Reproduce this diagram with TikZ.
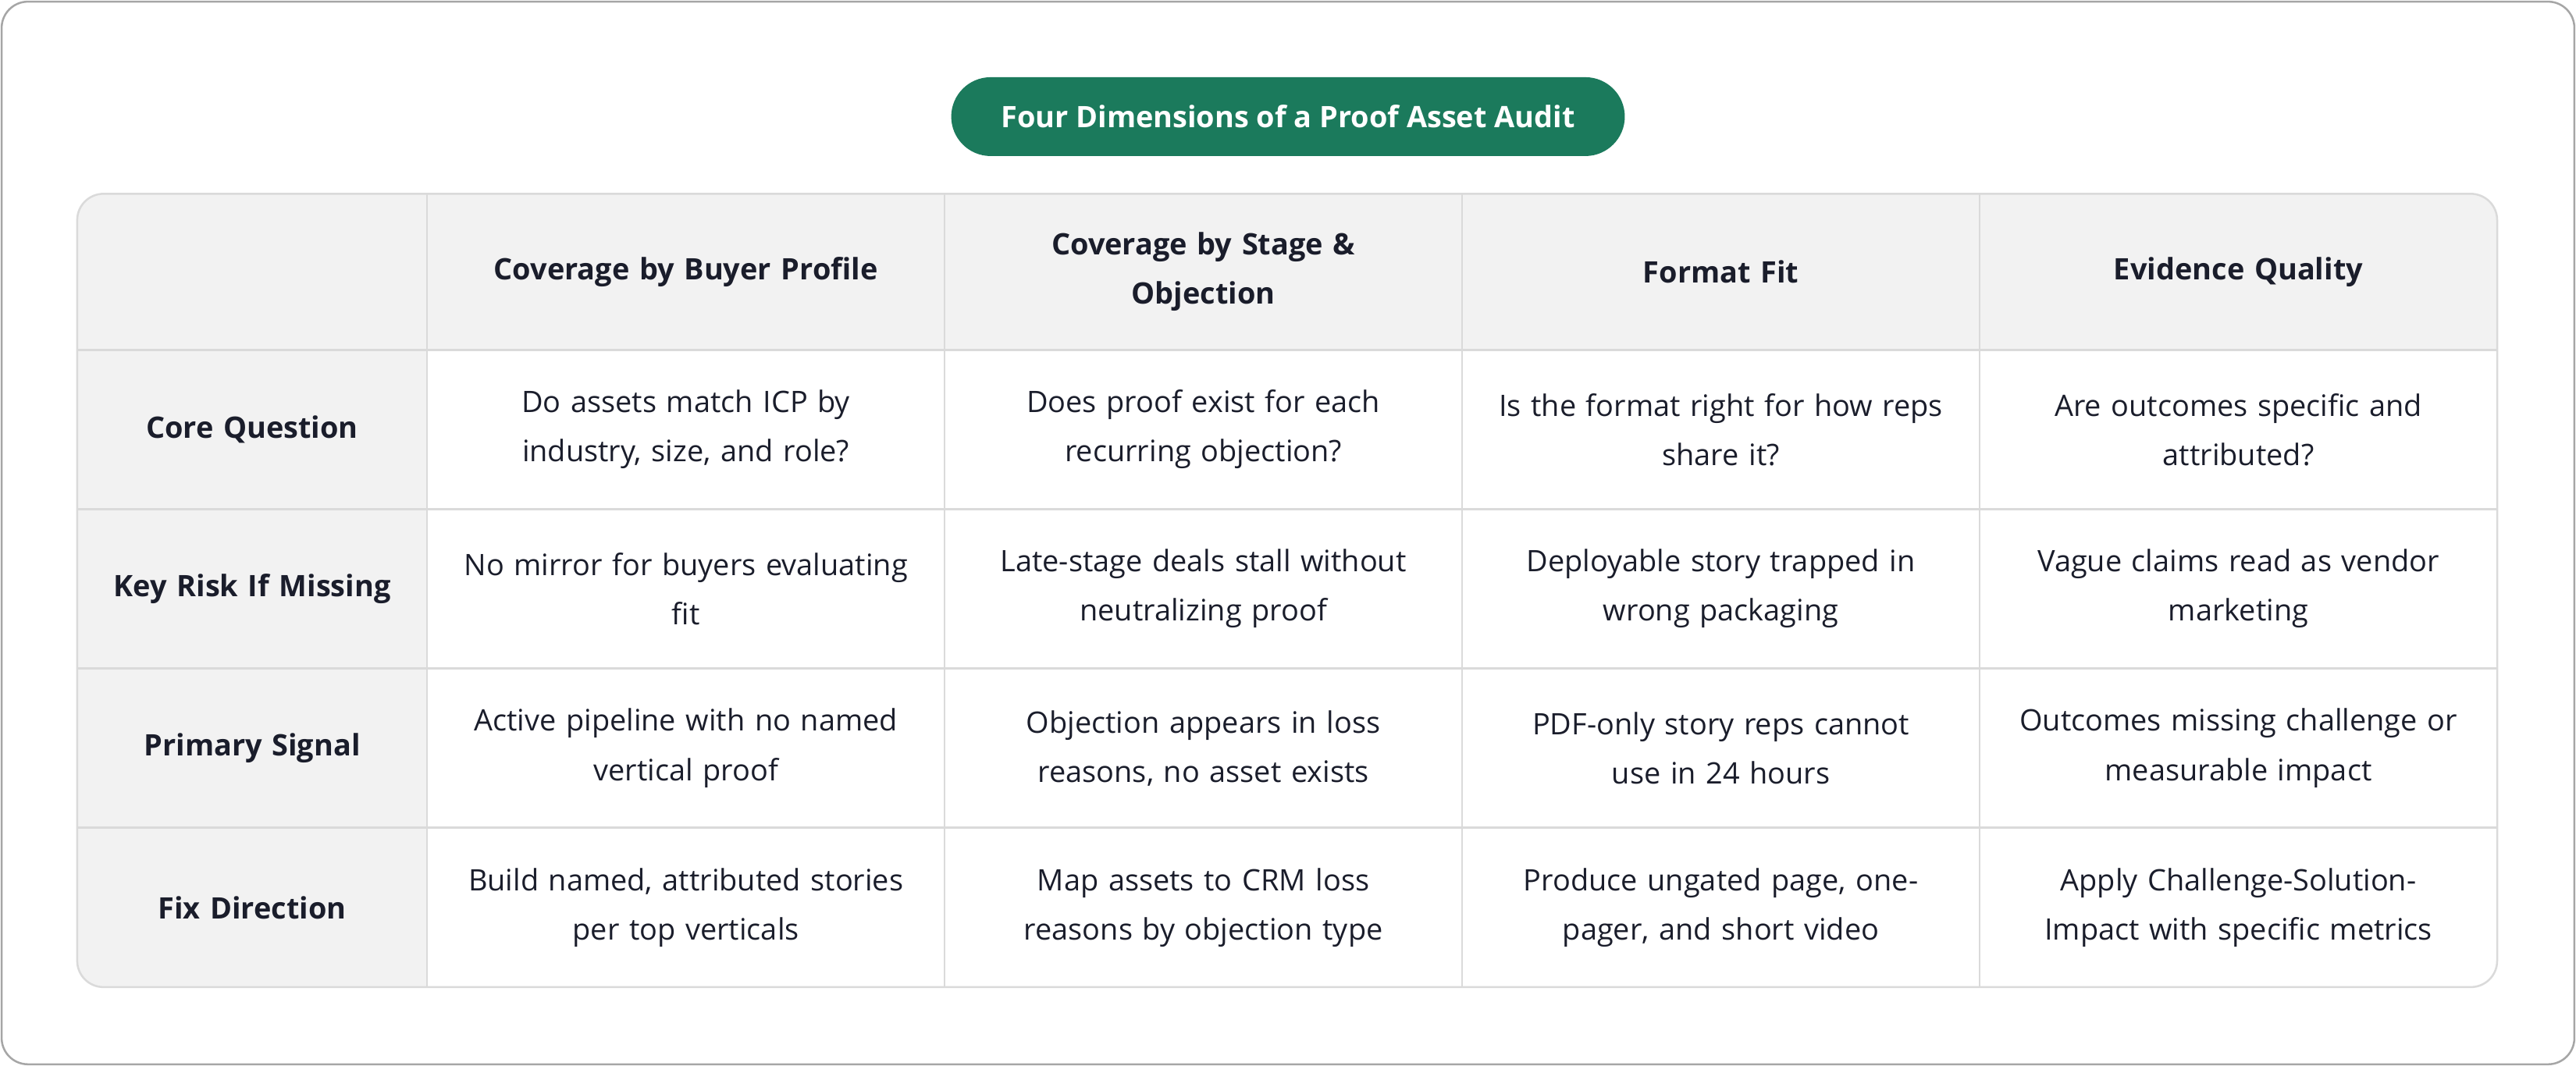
\documentclass[tikz,border=0pt]{standalone}
\usepackage{fontspec}
\setmainfont{Open Sans}
\usetikzlibrary{positioning,calc}
\definecolor{audgreen}{HTML}{1B7A5C}
\definecolor{audgray}{HTML}{F2F2F2}
\definecolor{audline}{HTML}{DADADA}
\definecolor{audtext}{HTML}{1A1D2B}
\tikzset{
  cell/.style={text width=154pt, align=center, font=\fontsize{9}{15}\selectfont, text=audtext},
  head/.style={cell, font=\fontsize{9}{15}\selectfont\bfseries},
}
\begin{document}
\hyphenpenalty=10000
\begin{tikzpicture}[x=0.5pt,y=-0.5pt]
% frame
\useasboundingbox (0,0) rectangle (1568,649);
\draw[gray!70, line width=0.6pt, rounded corners=8pt] (1,1) rectangle (1567,648);
% title
\node[fill=audgreen, rounded corners=12pt, minimum width=205pt, minimum height=24pt,
      text=white, font=\fontsize{9}{12}\selectfont\bfseries] (title) at (784,71)
      {Four Dimensions of a Proof Asset Audit};
% table background
\begin{scope}
\clip[rounded corners=8pt] (47,118) rectangle (1520,601);
\fill[white] (47,118) rectangle (1520,601);
\fill[audgray] (47,118) rectangle (1520,213);
\fill[audgray] (47,118) rectangle (260,601);
\foreach \x in {260,575,890,1205}
  \draw[audline, line width=0.6pt] (\x,118) -- (\x,601);
\foreach \y in {213,310,407,504}
  \draw[audline, line width=0.6pt] (47,\y) -- (1520,\y);
\end{scope}
\draw[audline, line width=0.6pt, rounded corners=8pt] (47,118) rectangle (1520,601);
% header row
\node[head] (h1) at (417.5,165.5) {Coverage by Buyer Profile};
\node[head] (h2) at (732.5,165.5) {Coverage by Stage \&\\ Objection};
\node[head] (h3) at (1047.5,165.5) {Format Fit};
\node[head] (h4) at (1362.5,165.5) {Evidence Quality};
% row labels
\node[head] (r1) at (153.5,261.5) {Core Question};
\node[head] (r2) at (153.5,358.5) {Key Risk If Missing};
\node[head] (r3) at (153.5,455.5) {Primary Signal};
\node[head] (r4) at (153.5,552.5) {Fix Direction};
% body cells
\node[cell] (c11) at (417.5,261.5) {Do assets match ICP by\\ industry, size, and role?};
\node[cell] (c12) at (732.5,261.5) {Does proof exist for each\\ recurring objection?};
\node[cell] (c13) at (1047.5,261.5) {Is the format right for how reps\\ share it?};
\node[cell] (c14) at (1362.5,261.5) {Are outcomes specific and\\ attributed?};
\node[cell] (c21) at (417.5,358.5) {No mirror for buyers evaluating\\ fit};
\node[cell] (c22) at (732.5,358.5) {Late-stage deals stall without\\ neutralizing proof};
\node[cell] (c23) at (1047.5,358.5) {Deployable story trapped in\\ wrong packaging};
\node[cell] (c24) at (1362.5,358.5) {Vague claims read as vendor\\ marketing};
\node[cell] (c31) at (417.5,455.5) {Active pipeline with no named\\ vertical proof};
\node[cell] (c32) at (732.5,455.5) {Objection appears in loss\\ reasons, no asset exists};
\node[cell] (c33) at (1047.5,455.5) {PDF-only story reps cannot\\ use in 24 hours};
\node[cell] (c34) at (1362.5,455.5) {Outcomes missing challenge or\\ measurable impact};
\node[cell] (c41) at (417.5,552.5) {Build named, attributed stories\\ per top verticals};
\node[cell] (c42) at (732.5,552.5) {Map assets to CRM loss\\ reasons by objection type};
\node[cell] (c43) at (1047.5,552.5) {Produce ungated page, one-\\ pager, and short video};
\node[cell] (c44) at (1362.5,552.5) {Apply Challenge-Solution-\\ Impact with specific metrics};
\end{tikzpicture}
\end{document}
